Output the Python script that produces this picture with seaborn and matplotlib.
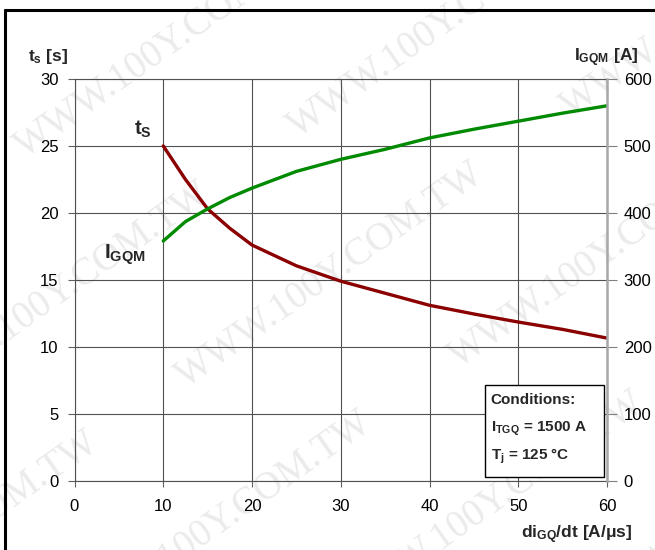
import matplotlib
matplotlib.use("Agg")
import math
import matplotlib.pyplot as plt
import seaborn as sns
from matplotlib.lines import Line2D
from matplotlib.patches import Rectangle

# Storage time and peak turn-off gate current versus gate current slope
rate = [10, 12.5, 15, 17.5, 20, 25, 30, 35, 40, 45, 50, 55, 60]
t_s = [25.0, 22.5, 20.3, 18.85, 17.6, 16.05, 14.9, 14.0, 13.1, 12.45, 11.85, 11.3, 10.65]
i_gqm = [358, 387, 406, 423, 437, 462, 480, 495, 512, 525, 537, 549, 560]

x_ticks = [0, 10, 20, 30, 40, 50, 60]
ts_ticks = [0, 5, 10, 15, 20, 25, 30]
i_ticks = [0, 100, 200, 300, 400, 500, 600]

sns.set_theme(style="white")
plt.rcParams["font.family"] = ["Liberation Sans", "DejaVu Sans"]
plt.rcParams["mathtext.fontset"] = "custom"
plt.rcParams["mathtext.rm"] = "Liberation Sans"
plt.rcParams["mathtext.it"] = "Liberation Sans"
plt.rcParams["mathtext.bf"] = "Liberation Sans:bold"

W, H = 655, 550
fig = plt.figure(figsize=(W / 100, H / 100), dpi=100)
fig.patch.set_facecolor("white")


def fx(px):
    return px / W


def fy(py):
    return 1 - py / H


# faint diagonal watermark tiled behind the plot
ang = math.radians(35)
ux, uy = math.cos(ang), -math.sin(ang)
nx, ny = math.sin(ang), math.cos(ang)
for j in range(-3, 4):
    for i in range(-2, 3):
        s = i * 470 + (j % 2) * 235
        cx = 330 + s * ux + j * 140 * nx
        cy = 275 + s * uy + j * 140 * ny
        if -220 < cx < W + 220 and -200 < cy < H + 200:
            fig.text(fx(cx), fy(cy), "WWW.100Y.COM.TW", rotation=35,
                     fontsize=28, family="Liberation Serif", color="#ebebeb",
                     ha="center", va="center", zorder=-5)

ax = fig.add_axes([fx(74.5), fy(480.7), fx(607) - fx(74.5), fy(79) - fy(480.7)])
ax.set_facecolor("none")
ax2 = ax.twinx()
ax2.set_facecolor("none")

sns.lineplot(x=rate, y=t_s, ax=ax, color="#8b0000", linewidth=2.4)
sns.lineplot(x=rate, y=i_gqm, ax=ax2, color="#008a00", linewidth=2.4)

ax.set_xlim(0, 60)
ax.set_ylim(0, 30)
ax2.set_ylim(0, 600)
ax.set_xticks(x_ticks)
ax.set_yticks(ts_ticks)
ax2.set_yticks(i_ticks)
ax.set_xticklabels([str(v) for v in x_ticks])
ax.set_yticklabels([str(v) for v in ts_ticks])
ax2.set_yticklabels([str(v) for v in i_ticks])
ax.set_xlabel("")
ax.set_ylabel("")
ax2.set_ylabel("")

ax.grid(True, color="#505050", linewidth=0.8)
ax2.grid(False)

for name, sp in ax.spines.items():
    sp.set_color("#505050")
    sp.set_linewidth(0.8)
ax.spines["right"].set_visible(False)
for name in ("left", "top", "bottom"):
    ax2.spines[name].set_visible(False)
ax2.spines["right"].set_color("#a8a8a8")
ax2.spines["right"].set_linewidth(1.8)

ax.tick_params(axis="y", left=True, direction="out", length=5, width=0.8,
               color="#606060", pad=6.5, labelsize=12, labelcolor="black")
ax.tick_params(axis="x", bottom=True, direction="out", length=4.5, width=0.8,
               color="#606060", pad=9, labelsize=12, labelcolor="black")
ax2.tick_params(axis="y", right=True, direction="out", length=7, width=0.8,
                color="#808080", pad=5, labelsize=12, labelcolor="black")

# axis titles
fig.text(fx(28), fy(61.5), r"$\mathbf{t_{s}}$ [s]", fontsize=12.5,
         fontweight="bold", ha="left", va="baseline")
fig.text(fx(639), fy(61), r"$\mathbf{I_{GQM}}$ [A]", fontsize=12.5,
         fontweight="bold", ha="right", va="baseline")
fig.text(fx(632), fy(538), r"di$_{\mathbf{GQ}}$/dt [A/μs]", fontsize=12.5,
         fontweight="bold", ha="right", va="baseline")

# curve labels
fig.text(fx(134), fy(135), r"$\mathbf{t_{S}}$", fontsize=14.5,
         ha="left", va="baseline")
fig.text(fx(104), fy(259), r"$\mathbf{I_{GQM}}$", fontsize=15,
         ha="left", va="baseline")

# conditions box
ax.add_patch(Rectangle((46.3, 0.28), 13.4, 6.88, facecolor="white",
                       edgecolor="black", linewidth=1.0, zorder=5))
ax.text(46.9, 5.7, "Conditions:", fontsize=11, fontweight="bold",
        ha="left", va="baseline", zorder=6)
ax.text(46.9, 3.65, r"I$_{\mathbf{TGQ}}$ = 1500 A", fontsize=11,
        fontweight="bold", ha="left", va="baseline", zorder=6)
ax.text(46.9, 1.55, r"T$_{\mathbf{j}}$ = 125 °C", fontsize=11,
        fontweight="bold", ha="left", va="baseline", zorder=6)

# outer frame edges
fig.add_artist(Line2D([fx(4.5), fx(4.5)], [0, fy(10)], color="black",
                      linewidth=2.2, transform=fig.transFigure))
fig.add_artist(Line2D([fx(4.5), 1], [fy(10), fy(10)], color="black",
                      linewidth=2.2, transform=fig.transFigure))

fig.savefig("out.png", dpi=100, facecolor="white")
